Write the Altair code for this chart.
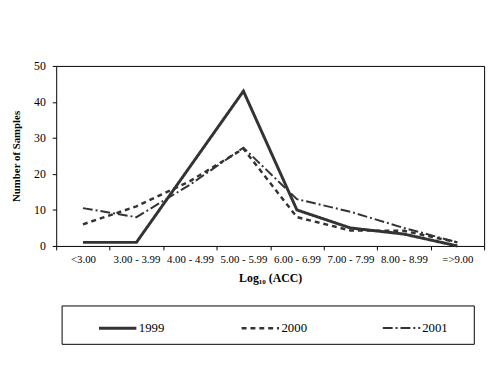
import altair as alt
import pandas as pd

categories = ["<3.00", "3.00 - 3.99", "4.00 - 4.99", "5.00 - 5.99",
              "6.00 - 6.99", "7.00 - 7.99", "8.00 - 8.99", "=>9.00"]
series = ["1999", "2000", "2001"]
values_1999 = [1, 1, 22, 43, 10, 5, 3.3, 0]
values_2000 = [6, 11, 18, 27, 8, 4.3, 4.2, 1]
values_2001 = [10.5, 8, 17, 27.3, 13, 9.5, 5, 1]

rows = []
for name, vals in zip(series, [values_1999, values_2000, values_2001]):
    for c, v in zip(categories, vals):
        rows.append({"cat": c, "year": name, "n": v})
df = pd.DataFrame(rows)

serif = "Liberation Serif"

legend_opts = dict(title=None, orient="none", direction="horizontal",
                   legendX=42, legendY=246, symbolType="stroke", symbolSize=1444,
                   symbolStrokeColor="#333333", labelFont=serif, labelFontSize=13,
                   labelColor="black", labelOffset=1, columnPadding=73, padding=0)

lines = alt.Chart(df).mark_line(color="#333333").encode(
    x=alt.X("cat:N", sort=categories, bandPosition=0.5,
            scale=alt.Scale(type="band", paddingInner=0, paddingOuter=0),
            axis=alt.Axis(title="Log₁₀ (ACC)", labelAngle=0, tickBand="extent",
                          domain=False, tickSize=4, tickColor="black",
                          labelPadding=4, labelFont=serif, labelFontSize=11,
                          labelColor="black", titleFont=serif, titleFontSize=12,
                          titleFontWeight="bold", titleColor="black",
                          titlePadding=8)),
    y=alt.Y("n:Q", scale=alt.Scale(domain=[0, 50], nice=False),
            axis=alt.Axis(title="Number of Samples", values=[0, 10, 20, 30, 40, 50],
                          grid=False, domain=False, tickSize=4, tickColor="black",
                          labelPadding=7, labelFont=serif, labelFontSize=12,
                          labelColor="black", titleFont=serif, titleFontSize=11,
                          titleFontWeight="bold", titleColor="black",
                          titlePadding=12)),
    strokeDash=alt.StrokeDash("year:N", sort=series,
                              scale=alt.Scale(domain=series,
                                              range=[[1, 0], [5, 4], [10, 3, 2, 3]]),
                              legend=alt.Legend(**legend_opts)),
    strokeWidth=alt.StrokeWidth("year:N", sort=series,
                                scale=alt.Scale(domain=series, range=[3, 2, 1]),
                                legend=alt.Legend(**legend_opts)),
)

box = alt.Chart(alt.Data(values=[{"b": 1}])).mark_rect(
    filled=False, stroke="black", strokeWidth=1
).encode(x=alt.value(6), x2=alt.value(425), y=alt.value(244), y2=alt.value(283))

chart = alt.layer(lines, box).properties(
    width=435, height=183,
    background="white",
    autosize=alt.AutoSizeParams(type="none"),
    padding={"left": 49, "top": 56, "right": 8, "bottom": 110},
).configure_view(stroke="black", strokeWidth=1)

chart.save("out.html", embed_options={"renderer": "svg", "actions": False})
